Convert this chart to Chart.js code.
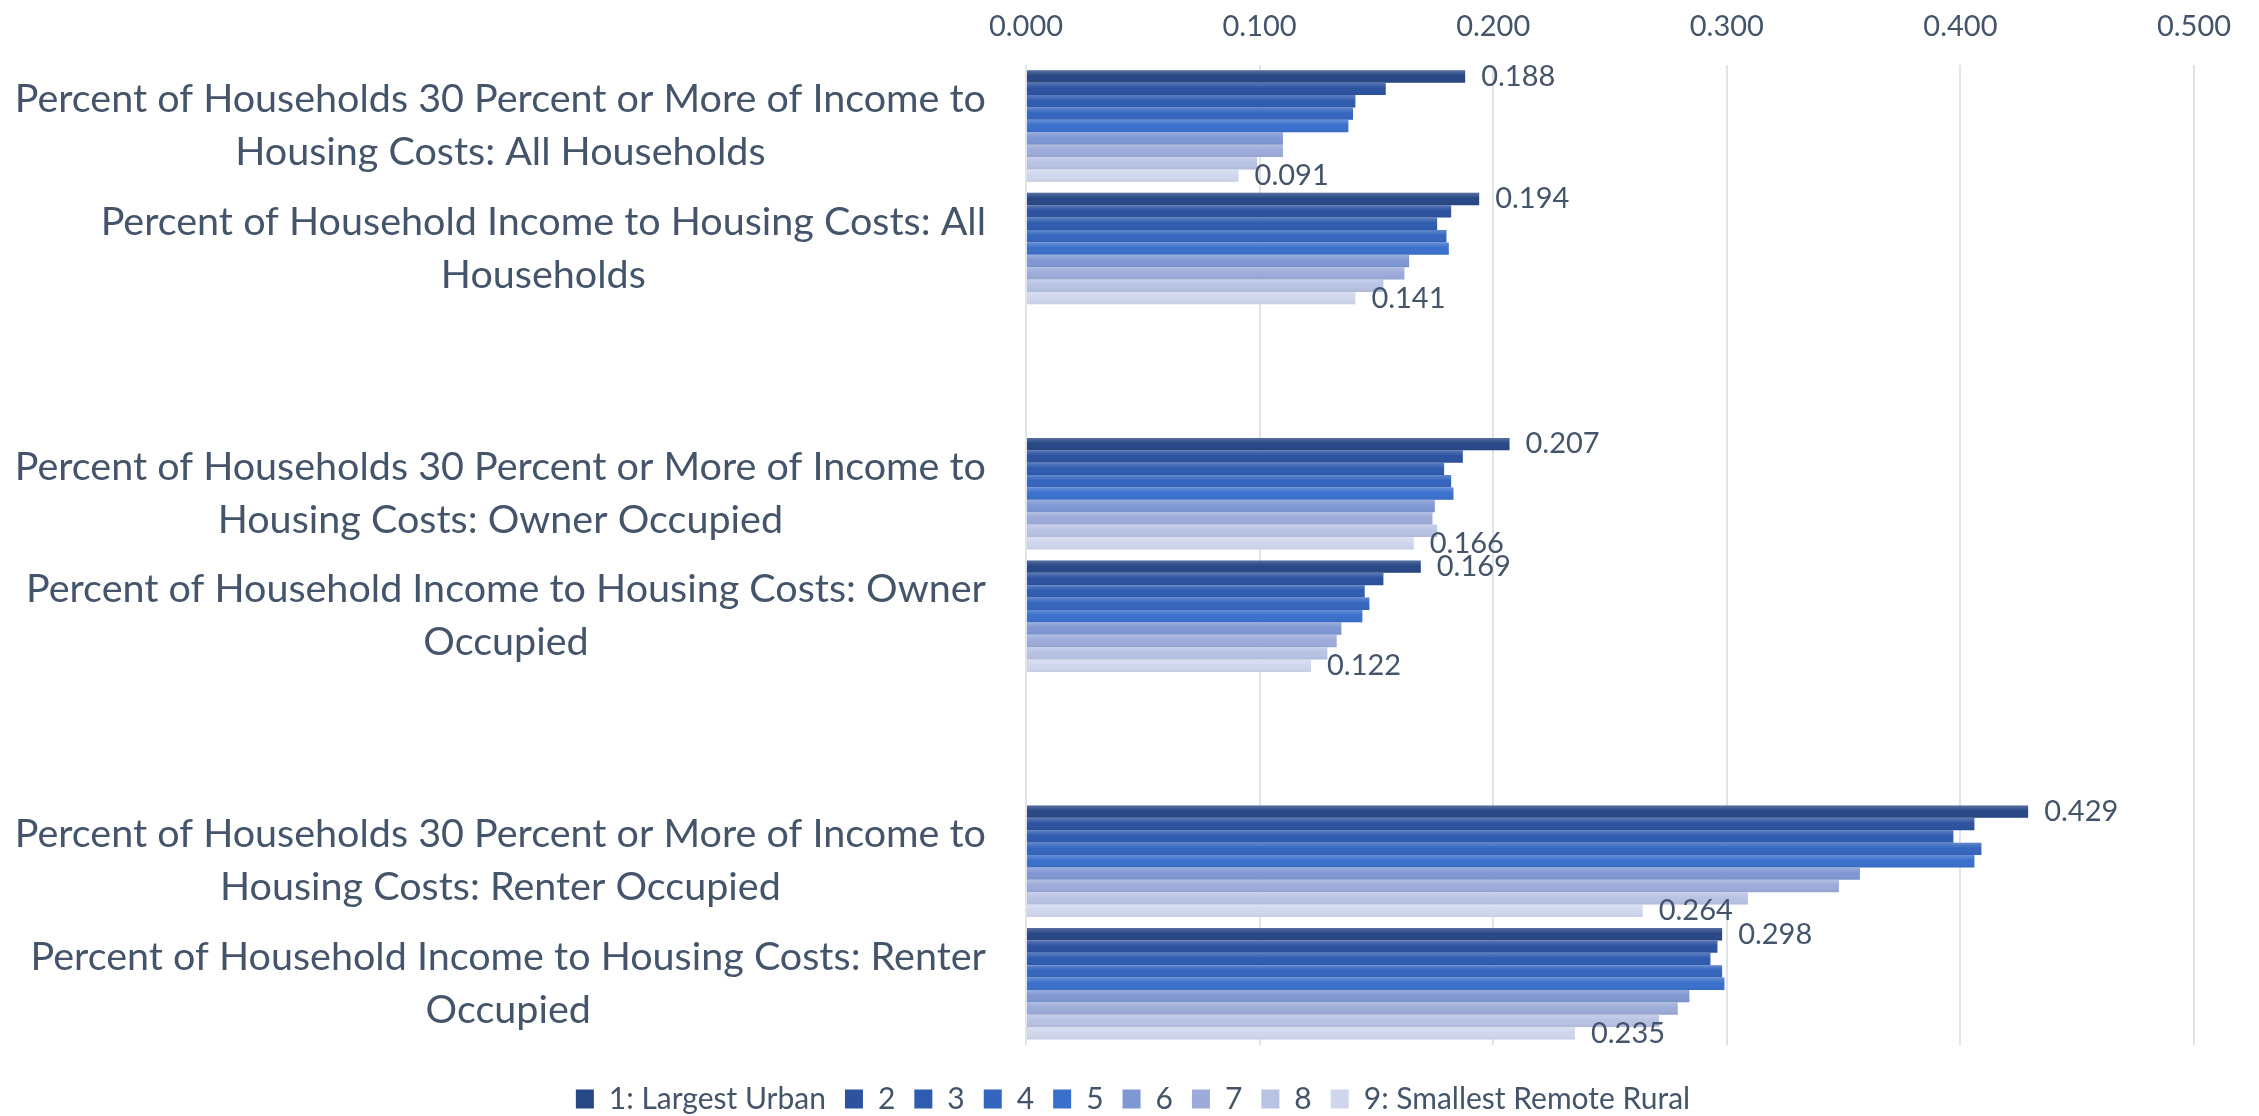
<!DOCTYPE html>
<html><head><meta charset="utf-8">
<script src="https://cdn.jsdelivr.net/npm/chart.js@4.4.0/dist/chart.umd.min.js"></script>
<style>html,body{margin:0;padding:0;background:#fff;}#wrap{width:2259px;height:1116px;position:relative;}</style>
</head><body><div id="wrap"><canvas id="c" width="2259" height="1116"></canvas></div>
<script>
// ---- data ----
const categories = [
  ["Percent of Households 30 Percent or More of Income to", "Housing Costs: All Households"],
  ["Percent of Household Income to Housing Costs: All", "Households"],
  "",
  ["Percent of Households 30 Percent or More of Income to", "Housing Costs: Owner Occupied"],
  ["Percent of Household Income to Housing Costs: Owner", "Occupied"],
  "",
  ["Percent of Households 30 Percent or More of Income to", "Housing Costs: Renter Occupied"],
  ["Percent of Household Income to Housing Costs: Renter", "Occupied"]
];
const seriesNames = ["1: Largest Urban", "2", "3", "4", "5", "6", "7", "8", "9: Smallest Remote Rural"];
const s1 = [0.188, 0.194, null, 0.207, 0.169, null, 0.429, 0.298];
const s2 = [0.154, 0.182, null, 0.187, 0.153, null, 0.406, 0.296];
const s3 = [0.141, 0.176, null, 0.179, 0.145, null, 0.397, 0.293];
const s4 = [0.140, 0.180, null, 0.182, 0.147, null, 0.409, 0.298];
const s5 = [0.138, 0.181, null, 0.183, 0.144, null, 0.406, 0.299];
const s6 = [0.110, 0.164, null, 0.175, 0.135, null, 0.357, 0.284];
const s7 = [0.110, 0.162, null, 0.174, 0.133, null, 0.348, 0.279];
const s8 = [0.099, 0.153, null, 0.176, 0.129, null, 0.309, 0.271];
const s9 = [0.091, 0.141, null, 0.166, 0.122, null, 0.264, 0.235];
const seriesValues = [s1, s2, s3, s4, s5, s6, s7, s8, s9];
const labeledSeries = [0, 8];
const xTickStep = 0.1;

// ---- style ----
const colors = ["#284785", "#2c52a0", "#2f5caf", "#3566bf", "#3a70cc", "#7f98d3", "#9cabd9", "#b8c2e3", "#d0d7ed"];
const textColor = "#44546a";
const FONT = "Lato, 'Open Sans', sans-serif";

const barShade = {
  id: 'barShade',
  afterDatasetsDraw(chart) {
    const ctx = chart.ctx;
    chart.data.datasets.forEach((ds, di) => {
      const meta = chart.getDatasetMeta(di);
      meta.data.forEach((el, i) => {
        if (ds.data[i] == null) return;
        const p = el.getProps(['x', 'y', 'base', 'height'], true);
        const top = p.y - p.height / 2, bot = p.y + p.height / 2;
        const g = ctx.createLinearGradient(0, top, 0, bot);
        g.addColorStop(0, 'rgba(255,255,255,0.22)');
        g.addColorStop(0.45, 'rgba(255,255,255,0)');
        g.addColorStop(1, 'rgba(0,0,0,0.05)');
        ctx.save();
        ctx.fillStyle = g;
        ctx.fillRect(Math.min(p.base, p.x), top, Math.abs(p.x - p.base), p.height);
        ctx.restore();
      });
    });
    // data labels
    ctx.save();
    ctx.font = "29px " + FONT;
    ctx.fillStyle = textColor;
    ctx.textAlign = 'left';
    ctx.textBaseline = 'middle';
    labeledSeries.forEach(di => {
      const meta = chart.getDatasetMeta(di);
      meta.data.forEach((el, i) => {
        const v = chart.data.datasets[di].data[i];
        if (v == null) return;
        ctx.fillText(v.toFixed(3), el.x + 16, el.y);
      });
    });
    ctx.restore();
  }
};

const catLabels = {
  id: 'catLabels',
  afterLayout(chart) {
    // nudge legend so it sits centred on the page near the bottom edge
    const lg = chart.legend;
    if (lg) { lg.top += 20; lg.bottom += 20; lg.left += 36; lg.right += 36; }
  },
  afterDraw(chart) {
    const ctx = chart.ctx;
    const ys = chart.scales.y;
    const right = chart.chartArea.left - 40;
    const lh = 53;
    ctx.save();
    ctx.font = "39.5px " + FONT;
    ctx.fillStyle = textColor;
    ctx.textAlign = 'center';
    ctx.textBaseline = 'middle';
    categories.forEach((lab, i) => {
      if (!lab) return;
      const lines = Array.isArray(lab) ? lab : [lab];
      const w = Math.max(...lines.map(l => ctx.measureText(l).width));
      const cx = right - w / 2;
      const y0 = ys.getPixelForValue(i) - (lines.length - 1) * lh / 2;
      lines.forEach((l, k) => ctx.fillText(l, cx, y0 + k * lh));
    });
    ctx.restore();
  }
};

new Chart(document.getElementById('c'), {
  type: 'bar',
  data: {
    labels: categories,
    datasets: seriesValues.map((d, i) => ({
      label: seriesNames[i],
      data: d,
      backgroundColor: colors[i],
      borderWidth: 0,
      barPercentage: 1.0,
      categoryPercentage: 0.91
    }))
  },
  options: {
    indexAxis: 'y',
    responsive: false,
    animation: false,
    layout: { padding: { left: 0, right: 65, top: -12, bottom: 12 } },
    scales: {
      x: {
        position: 'top',
        min: 0, max: 0.5,
        ticks: {
          stepSize: xTickStep,
          color: textColor,
          font: { family: FONT, size: 29 },
          padding: 21,
          callback: v => Number(v).toFixed(3)
        },
        grid: { color: '#e0e3ea', lineWidth: 2, drawTicks: false },
        border: { display: false }
      },
      y: {
        ticks: { display: false },
        grid: { display: false },
        border: { display: false },
        afterFit(scale) { scale.width = 1026; }
      }
    },
    plugins: {
      legend: {
        position: 'bottom',
        labels: {
          boxWidth: 18, boxHeight: 19,
          padding: 19,
          color: textColor,
          font: { family: FONT, size: 30 }
        }
      },
      tooltip: { enabled: false }
    }
  },
  plugins: [barShade, catLabels]
});
</script>
</body></html>
